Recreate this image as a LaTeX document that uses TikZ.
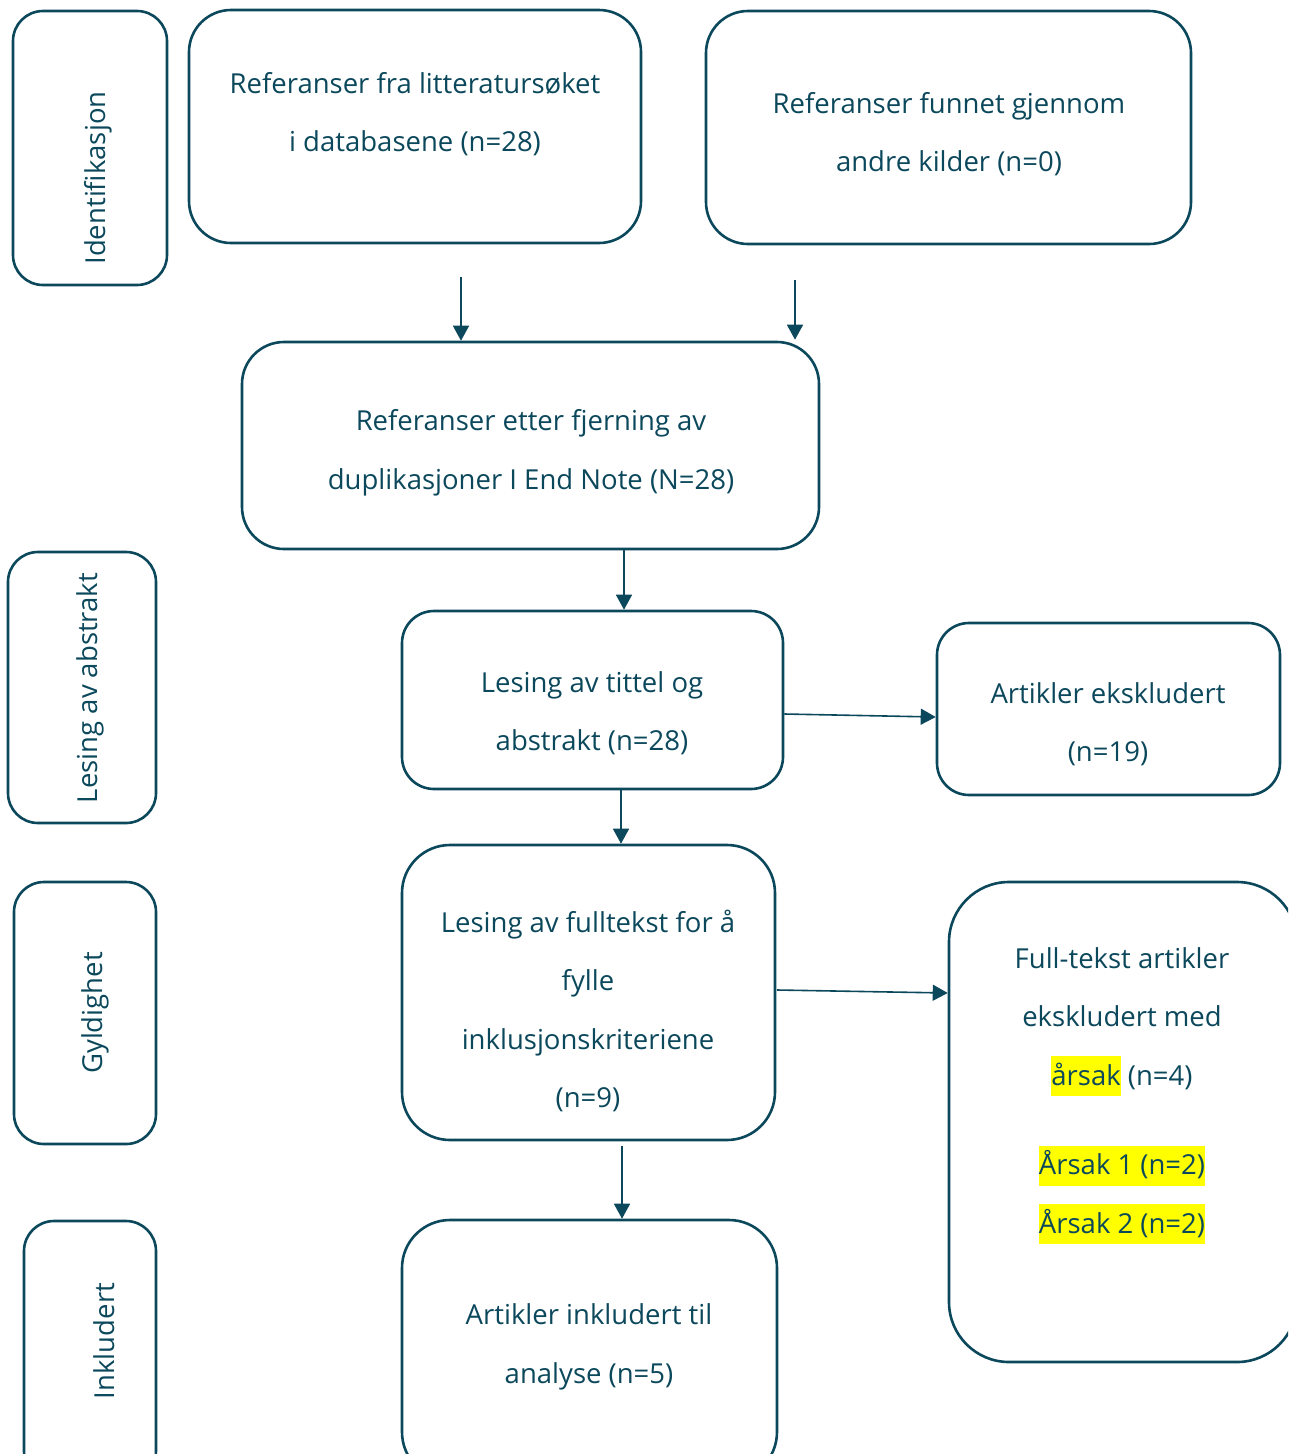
\documentclass[tikz,border=0pt]{standalone}
\usepackage{fontspec}
\setmainfont{Open Sans}
\usetikzlibrary{arrows.meta,calc}
\definecolor{mainc}{RGB}{12,72,92}
\definecolor{hlyel}{RGB}{255,255,0}
\newcommand{\hlt}[1]{{\setlength{\fboxsep}{0pt}\colorbox{hlyel}{\rule[-11pt]{0pt}{40pt}#1}}}
\tikzset{
  boxnode/.style={draw=mainc, line width=2.6pt, rounded corners=42pt, inner sep=0pt, anchor=center},
  txt/.style={text=mainc, align=center, inner sep=0pt, font=\fontsize{27.5}{58.5}\selectfont},
  sidetxt/.style={txt, rotate=90},
  arr/.style={draw=mainc, line width=1.6pt, -{Triangle[width=16pt,length=15pt]}}
}
\begin{document}
\begin{tikzpicture}[x=1pt,y=-1pt]
\clip (0,0) rectangle (1288,1454);
\fill[white] (0,0) rectangle (1288,1454);
% side boxes
\node[boxnode, rounded corners=30pt, minimum width=154pt, minimum height=274pt] (sId) at (90,148) {};
\node[sidetxt] (tId) at (98,178) {Identifikasjon};
\node[boxnode, rounded corners=30pt, minimum width=148pt, minimum height=271pt] (sLes) at (82,687.5) {};
\node[sidetxt] (tLes) at (90,688) {Lesing av abstrakt};
\node[boxnode, rounded corners=30pt, minimum width=142pt, minimum height=262pt] (sGyl) at (85,1013) {};
\node[sidetxt] (tGyl) at (95,1013) {Gyldighet};
\node[boxnode, rounded corners=30pt, minimum width=132pt, minimum height=260pt] (sInk) at (90,1351) {};
\node[sidetxt] (tInk) at (104,1341) {Inkludert};
% main boxes
\node[boxnode, minimum width=452pt, minimum height=233pt] (bA) at (415,126.5) {};
\node[txt] (tA) at (415,114) {Referanser fra litteraturs\o ket\\ i databasene (n=28)};
\node[boxnode, minimum width=485pt, minimum height=233pt] (bB) at (948.5,127.5) {};
\node[txt] (tB) at (949,134) {Referanser funnet gjennom\\ andre kilder (n=0)};
\node[boxnode, minimum width=577pt, minimum height=207pt] (bC) at (530.5,445.5) {};
\node[txt] (tC) at (531,453) {Referanser etter fjerning av\\ duplikasjoner I End Note (N=28)};
\node[boxnode, rounded corners=32pt, minimum width=381pt, minimum height=178pt] (bD) at (592.5,700) {};
\node[txt] (tD) at (592,713) {Lesing av tittel og\\ abstrakt (n=28)};
\node[boxnode, rounded corners=32pt, minimum width=343pt, minimum height=172pt] (bE) at (1108.5,709) {};
\node[txt] (tE) at (1108,724) {Artikler ekskludert\\ (n=19)};
\node[boxnode, rounded corners=48pt, minimum width=373pt, minimum height=295pt] (bF) at (588.5,992.5) {};
\node[txt] (tF) at (588,1011) {Lesing av fulltekst for \aa\\ fylle\\ inklusjonskriteriene\\ (n=9)};
\node[boxnode, rounded corners=60pt, minimum width=348pt, minimum height=480pt] (bG) at (1123,1122) {};
\node[txt] (tG) at (1122,1096) {Full-tekst artikler\\ ekskludert med\\ \hlt{\aa rsak} (n=4)\\[31pt] \hlt{\AA rsak 1 (n=2)}\\ \hlt{\AA rsak 2 (n=2)}};
\node[boxnode, rounded corners=48pt, minimum width=375pt, minimum height=260pt] (bH) at (589.5,1350) {};
\node[txt] (tH) at (589,1347) {Artikler inkludert til\\ analyse (n=5)};
% connectors
\coordinate (a1) at (461,277);
\coordinate (a2) at (795,280);
\draw[arr] (a1) -- (a1 |- bC.north);
\draw[arr] (a2) -- ($(a2 |- bC.north)+(0,-1)$);
\draw[arr] (bC.south -| 624,0) -- (bD.north -| 624,0);
\draw[arr] (bD.east |- 0,714) -- (bE.west |- 0,717);
\draw[arr] (bD.south -| 621,0) -- (bF.north -| 621,0);
\coordinate (f1) at (777,990);
\draw[arr] (f1) -- (bG.west |- 0,993);
\coordinate (f2) at (622,1146);
\draw[arr] (f2) -- (bH.north -| f2);
\end{tikzpicture}
\end{document}
